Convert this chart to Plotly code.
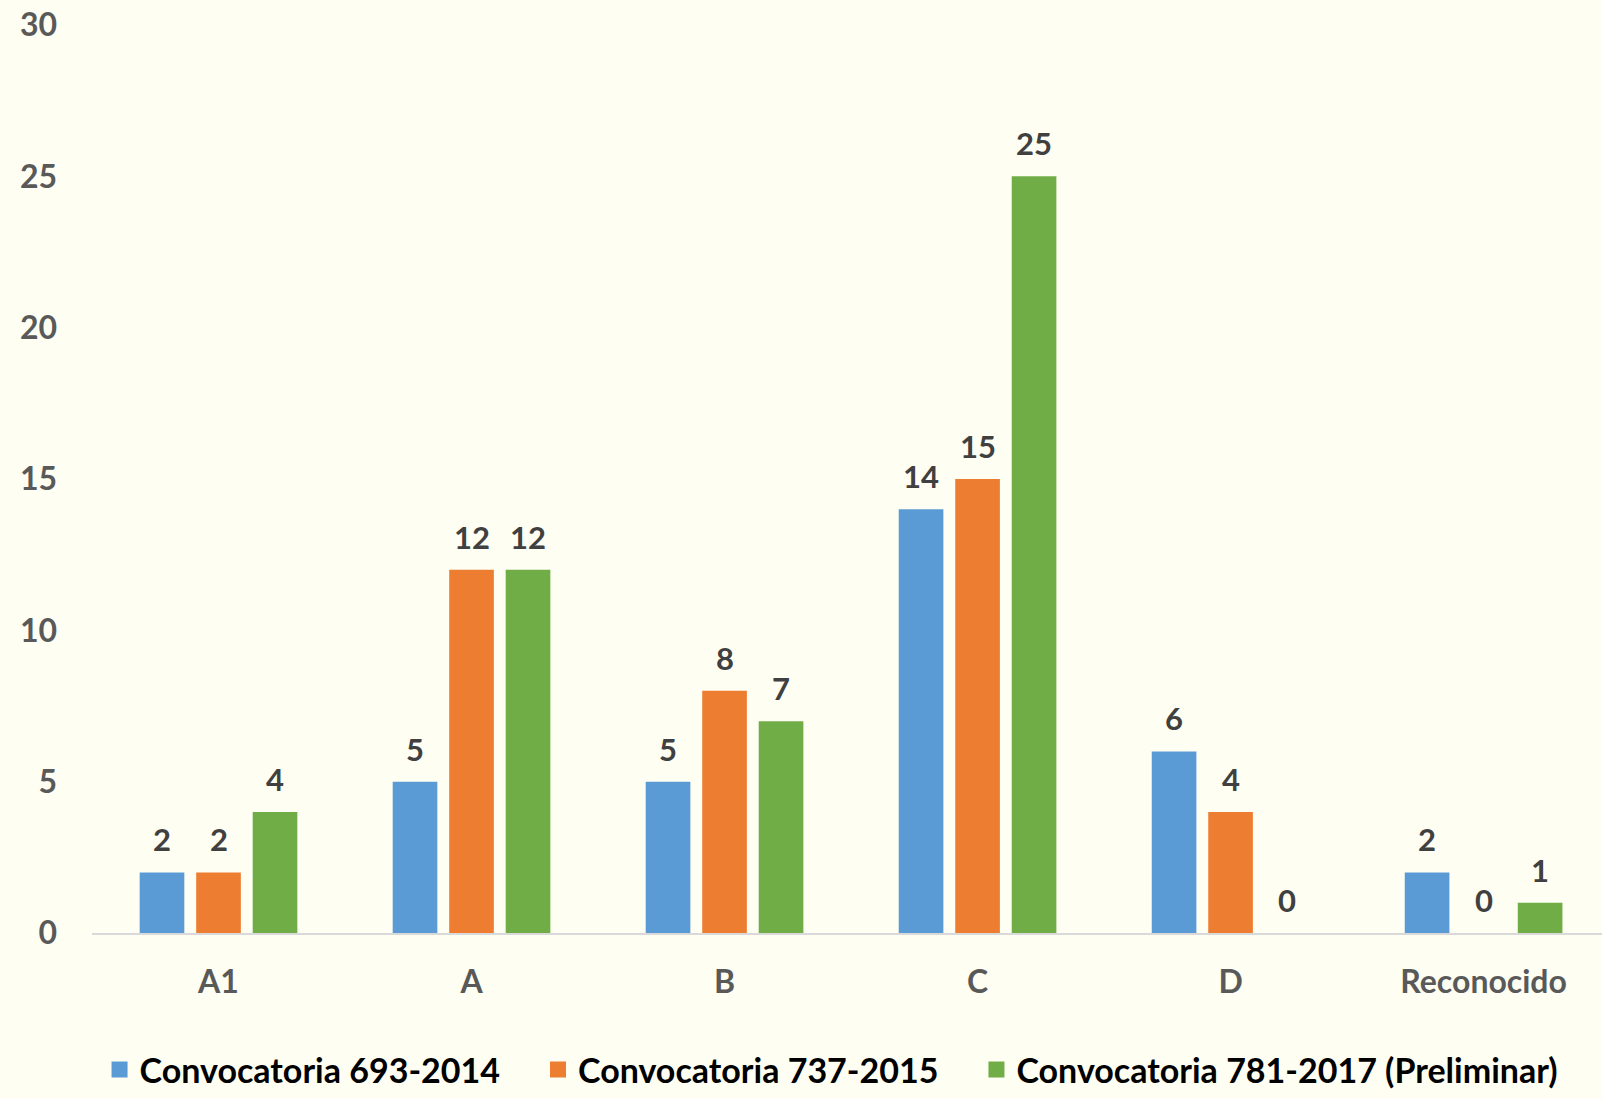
import plotly.graph_objects as go

categorias = ["A1", "A", "B", "C", "D", "Reconocido"]
conv_2014 = [2, 5, 5, 14, 6, 2]
conv_2015 = [2, 12, 8, 15, 4, 0]
conv_2017 = [4, 12, 7, 25, 0, 1]

series = [
    ("Convocatoria 693-2014", conv_2014, "#5B9BD5"),
    ("Convocatoria 737-2015", conv_2015, "#ED7D31"),
    ("Convocatoria 781-2017 (Preliminar)", conv_2017, "#70AD47"),
]

W, H = 1602, 1099
ML, MR = 92, 0
BARGAP = 0.33
XRANGE = [-0.5, 5.468]
# ancho en px de cada categoria, para desplazar las etiquetas al centro de cada barra
cat_px = (W - ML - MR) / (XRANGE[1] - XRANGE[0])
slot_px = cat_px * (1 - BARGAP) / len(series)
pad = "\u00a0" * 4

fig = go.Figure()
for i, (nombre, valores, color) in enumerate(series):
    fig.add_trace(go.Bar(
        x=categorias, y=valores, name=nombre, showlegend=False,
        marker=dict(color=color, line=dict(width=0)),
    ))
    # entrada de leyenda con cuadrado grande
    fig.add_trace(go.Scatter(
        x=[None], y=[None], mode="markers",
        name=nombre + (pad if i < len(series) - 1 else ""),
        marker=dict(symbol="square", size=20, color=color),
    ))
    for cat, v in zip(categorias, valores):
        fig.add_annotation(
            x=cat, y=v, text=str(v), showarrow=False,
            xshift=(i - 1) * slot_px, yshift=33, yanchor="middle",
            font=dict(family="Lato", size=31, color="#404040", weight="bold"),
        )

fig.update_layout(
    width=W, height=H,
    paper_bgcolor="#FEFEF2", plot_bgcolor="#FEFEF2",
    margin=dict(l=ML, r=MR, t=25, b=166, autoexpand=False),
    barmode="group", bargap=BARGAP, bargroupgap=0.21,
    font=dict(family="Lato", color="#595959"),
    legend=dict(orientation="h", x=0.005, xanchor="left", y=-0.1828, yanchor="bottom",
                font=dict(family="Lato", size=34, color="#000000", weight="bold"),
                itemwidth=30, traceorder="normal"),
)
fig.update_xaxes(range=XRANGE, showline=True, linecolor="#D9D9D9", linewidth=2,
                 tickfont=dict(family="Lato", size=32, color="#595959", weight="bold"),
                 ticks="", ticklabelstandoff=20)
fig.update_yaxes(range=[0, 30], dtick=5, showgrid=False, zeroline=False,
                 tickfont=dict(family="Lato", size=32, color="#595959", weight="bold"),
                 ticklabelstandoff=34)

fig.write_html("out.html", config={"displayModeBar": False},
               post_script="document.body.style.margin='0px';")
